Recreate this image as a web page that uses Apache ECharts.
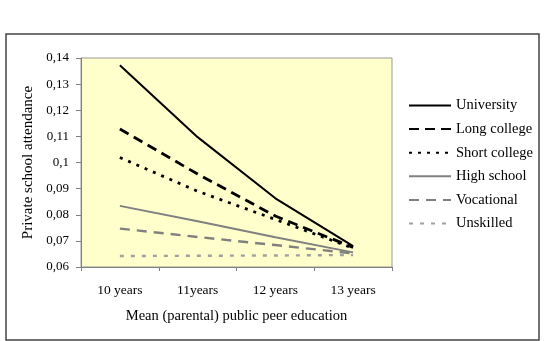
<!DOCTYPE html>
<html>
<head>
<meta charset="utf-8">
<script src="https://cdn.jsdelivr.net/npm/echarts@6/dist/echarts.min.js"></script>
<style>
html,body{margin:0;padding:0;background:#fff;}
#main{width:544px;height:341px;}
</style>
</head>
<body>
<div id="main"></div>
<script>
// data
var categories = ['10 years', '11years', '12 years', '13 years'];
var university = [0.1372, 0.1097, 0.0863, 0.0680];
var longCollege = [0.1128, 0.0956, 0.0795, 0.0675];
var shortCollege = [0.1019, 0.0890, 0.0782, 0.0672];
var highSchool = [0.0834, 0.0775, 0.0714, 0.0656];
var vocational = [0.0747, 0.0715, 0.0684, 0.0652];
var unskilled = [0.0642, 0.0643, 0.0644, 0.0646];

var font = 'Liberation Serif';
var myChart = echarts.init(document.getElementById('main'));

function line(name, data, color, width, dash) {
	return {
		name: name,
		type: 'line',
		data: data,
		symbol: 'none',
		silent: true,
		lineStyle: {color: color, width: width, type: dash},
		itemStyle: {color: color}
	};
}

var options = {
	animation: false,
	textStyle: {fontFamily: font, color: '#000'},
	graphic: [{
		type: 'rect',
		shape: {x: 6, y: 34, width: 533, height: 306},
		style: {fill: 'none', stroke: '#444', lineWidth: 1.5}
	}],
	grid: {
		left: 81, right: 152, top: 58, bottom: 74,
		show: true,
		backgroundColor: '#ffffcc',
		borderColor: '#999',
		borderWidth: 1
	},
	legend: {
		orient: 'vertical',
		left: 408,
		top: 98,
		padding: 0,
		itemWidth: 42,
		itemHeight: 14,
		itemGap: 8.6,
		itemStyle: {color: 'transparent', borderWidth: 0},
		textStyle: {fontFamily: font, fontSize: 14.5, color: '#000'},
		data: ['University', 'Long college', 'Short college', 'High school', 'Vocational', 'Unskilled']
	},
	xAxis: {
		type: 'category',
		data: categories,
		boundaryGap: true,
		name: 'Mean (parental) public peer education',
		nameLocation: 'middle',
		nameGap: 42,
		nameTextStyle: {fontFamily: font, fontSize: 14.5, color: '#000'},
		axisLine: {lineStyle: {color: '#808080', width: 1}},
		axisTick: {show: true, length: 4, lineStyle: {color: '#808080'}},
		axisLabel: {fontFamily: font, fontSize: 13.5, color: '#000', margin: 16}
	},
	yAxis: {
		type: 'value',
		min: 0.06,
		max: 0.14,
		interval: 0.01,
		name: 'Private school attendance',
		nameLocation: 'middle',
		nameGap: 40,
		nameTextStyle: {fontFamily: font, fontSize: 15, color: '#000'},
		axisLine: {show: true, lineStyle: {color: '#808080', width: 1}},
		axisTick: {show: true, length: 5, lineStyle: {color: '#808080'}},
		splitLine: {show: false},
		axisLabel: {
			fontFamily: font, fontSize: 13, color: '#000', margin: 12,
			formatter: function(v){ return String(+v.toFixed(2)).replace('.', ','); }
		}
	},
	series: [
		line('University', university, '#000', 2, 'solid'),
		line('Long college', longCollege, '#000', 2.8, [10, 6]),
		line('Short college', shortCollege, '#000', 2.8, [3, 6]),
		line('High school', highSchool, '#808080', 2, 'solid'),
		line('Vocational', vocational, '#808080', 2.4, [10, 7]),
		line('Unskilled', unskilled, '#a0a0a0', 2.4, [4, 7])
	]
};
myChart.setOption(options);
</script>
</body>
</html>
